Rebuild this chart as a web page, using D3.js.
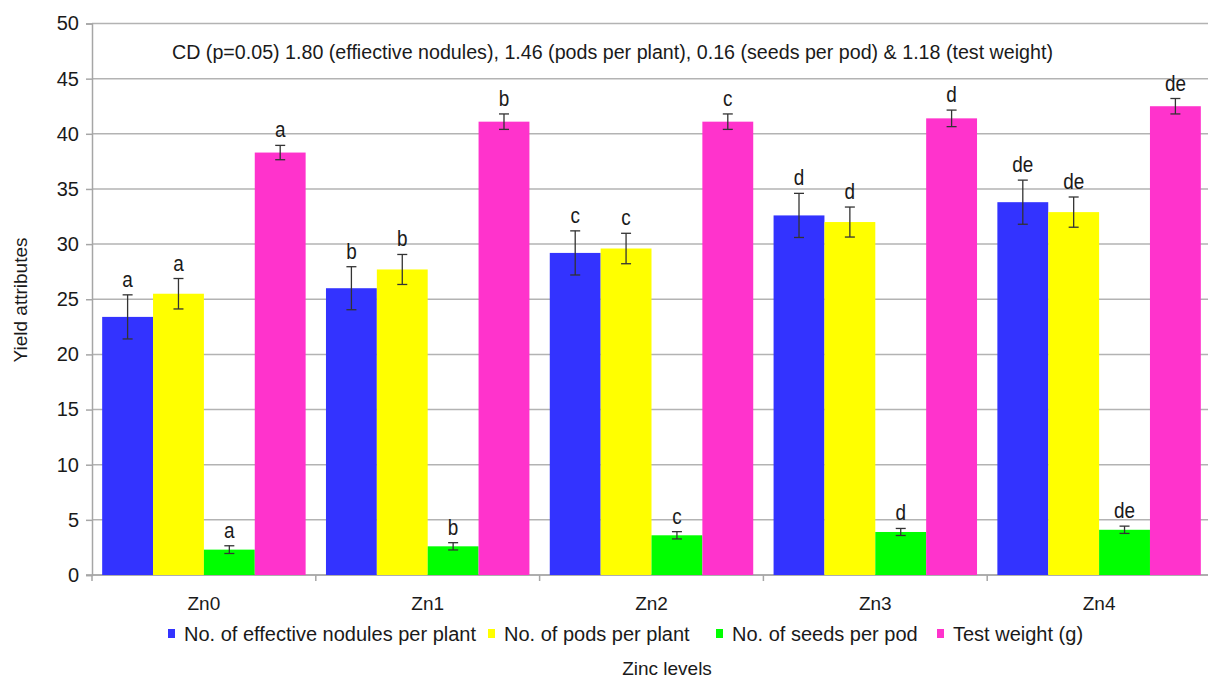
<!DOCTYPE html>
<html>
<head>
<meta charset="utf-8">
<script src="https://cdn.jsdelivr.net/npm/d3@7"></script>
<style>
  html, body { margin: 0; padding: 0; background: #fff; }
  svg text { font-family: "Liberation Sans", Arial, sans-serif; fill: #1a1a1a; }
</style>
</head>
<body>
<svg id="chart" width="1208" height="678"></svg>
<script>
// Zinc levels on the x axis
const levels = ["Zn0", "Zn1", "Zn2", "Zn3", "Zn4"];

// Series names (legend order)
const seriesNames = [
  "No. of effective nodules per plant",
  "No. of pods per plant",
  "No. of seeds per pod",
  "Test weight (g)"
];
const seriesColors = ["#3333ff", "#ffff00", "#00ff00", "#ff33cc"];

// Means per zinc level
const nodules   = [23.4, 26.0, 29.2, 32.6, 33.8];
const pods      = [25.5, 27.7, 29.6, 32.0, 32.9];
const seeds     = [2.3, 2.6, 3.6, 3.9, 4.1];
const testWt    = [38.3, 41.1, 41.1, 41.4, 42.5];

// Error bar half-widths
const nodulesErr = [2.0, 1.95, 2.0, 2.0, 2.0];
const podsErr    = [1.38, 1.36, 1.38, 1.36, 1.37];
const seedsErr   = [0.35, 0.33, 0.33, 0.32, 0.33];
const testWtErr  = [0.65, 0.7, 0.7, 0.75, 0.7];

// Significance letters
const nodulesLetters = ["a", "b", "c", "d", "de"];
const podsLetters    = ["a", "b", "c", "d", "de"];
const seedsLetters   = ["a", "b", "c", "d", "de"];
const testWtLetters  = ["a", "b", "c", "d", "de"];

const yTicks = [0, 5, 10, 15, 20, 25, 30, 35, 40, 45, 50];

const cdNote = "CD (p=0.05) 1.80 (effiective nodules), 1.46 (pods per plant), 0.16 (seeds per pod) & 1.18 (test weight)";

const seriesValues  = [nodules, pods, seeds, testWt];
const seriesErrors  = [nodulesErr, podsErr, seedsErr, testWtErr];
const seriesLetters = [nodulesLetters, podsLetters, seedsLetters, testWtLetters];

const svg = d3.select("#chart");
const plotLeft = 92, plotRight = 1211, plotTop = 23.5, plotBottom = 575;

const x0 = d3.scaleBand().domain(levels).range([plotLeft, plotRight]).paddingInner(0).paddingOuter(0);
const x1 = d3.scaleBand().domain(d3.range(seriesNames.length)).range([0, x0.bandwidth()]).paddingInner(0).paddingOuter(0.2);
const y = d3.scaleLinear().domain([0, 50]).range([plotBottom, plotTop]);

// Horizontal gridlines
svg.append("g")
  .selectAll("line")
  .data(yTicks)
  .join("line")
  .attr("x1", plotLeft).attr("x2", plotRight)
  .attr("y1", d => y(d)).attr("y2", d => y(d))
  .attr("stroke", "#b3b3b3").attr("stroke-width", 1.5);

// Y axis
const yAxis = svg.append("g")
  .attr("transform", `translate(${plotLeft},0)`)
  .call(d3.axisLeft(y).tickValues(yTicks).tickSize(6).tickPadding(7));
yAxis.select(".domain").attr("stroke", "#a6a6a6").attr("stroke-width", 1.5);
yAxis.selectAll(".tick line").attr("stroke", "#a6a6a6").attr("stroke-width", 1.5);
yAxis.selectAll(".tick text").attr("font-size", 20).style("fill", "#1a1a1a")
  .style("font-family", '"Liberation Sans", Arial, sans-serif');

// X axis (boundary ticks between groups)
const xBase = svg.append("g");
xBase.append("line")
  .attr("x1", plotLeft - 6).attr("x2", plotRight)
  .attr("y1", plotBottom).attr("y2", plotBottom)
  .attr("stroke", "#a6a6a6").attr("stroke-width", 1.5);
xBase.selectAll("line.b")
  .data(d3.range(levels.length + 1))
  .join("line")
  .attr("class", "b")
  .attr("x1", i => plotLeft + i * x0.bandwidth())
  .attr("x2", i => plotLeft + i * x0.bandwidth())
  .attr("y1", plotBottom).attr("y2", plotBottom + 6)
  .attr("stroke", "#a6a6a6").attr("stroke-width", 1.5);
xBase.selectAll("text")
  .data(levels)
  .join("text")
  .attr("x", d => x0(d) + x0.bandwidth() / 2)
  .attr("y", 610)
  .attr("text-anchor", "middle")
  .attr("font-size", 19)
  .text(d => d);

// Bars, error bars and letters
const groups = svg.append("g")
  .selectAll("g")
  .data(levels)
  .join("g")
  .attr("transform", d => `translate(${x0(d)},0)`);

const cells = groups.selectAll("g")
  .data((d, li) => seriesNames.map((s, si) => ({
    si,
    v: seriesValues[si][li],
    e: seriesErrors[si][li],
    l: seriesLetters[si][li]
  })))
  .join("g");

cells.append("rect")
  .attr("x", d => x1(d.si))
  .attr("width", x1.bandwidth())
  .attr("y", d => y(d.v))
  .attr("height", d => y(0) - y(d.v))
  .attr("fill", d => seriesColors[d.si]);

const cx = d => x1(d.si) + x1.bandwidth() / 2;
cells.append("line")
  .attr("x1", cx).attr("x2", cx)
  .attr("y1", d => y(d.v + d.e)).attr("y2", d => y(d.v - d.e))
  .attr("stroke", "#333").attr("stroke-width", 1.3);
cells.append("line")
  .attr("x1", d => cx(d) - 5).attr("x2", d => cx(d) + 5)
  .attr("y1", d => y(d.v + d.e)).attr("y2", d => y(d.v + d.e))
  .attr("stroke", "#333").attr("stroke-width", 1.3);
cells.append("line")
  .attr("x1", d => cx(d) - 5).attr("x2", d => cx(d) + 5)
  .attr("y1", d => y(d.v - d.e)).attr("y2", d => y(d.v - d.e))
  .attr("stroke", "#333").attr("stroke-width", 1.3);
// Letters use a slightly condensed face
cells.append("g")
  .attr("transform", d => `translate(${cx(d)},${y(d.v + d.e) - 8}) scale(0.86,1)`)
  .append("text")
  .attr("text-anchor", "middle")
  .attr("font-size", 22)
  .text(d => d.l);

// CD note inside the plot
svg.append("text")
  .attr("x", 172).attr("y", 59)
  .attr("font-size", 19.5)
  .attr("textLength", 881)
  .attr("lengthAdjust", "spacingAndGlyphs")
  .text(cdNote);

// Legend
const legendX = [168, 488, 716, 937];
const legend = svg.append("g")
  .selectAll("g")
  .data(seriesNames)
  .join("g")
  .attr("transform", (d, i) => `translate(${legendX[i]},634)`);
legend.append("rect")
  .attr("x", 0).attr("y", -5).attr("width", 7).attr("height", 9)
  .attr("fill", (d, i) => seriesColors[i]);
legend.append("text")
  .attr("x", 16).attr("y", 7)
  .attr("font-size", 20)
  .text(d => d);

// Axis titles
svg.append("text")
  .attr("x", 667).attr("y", 675)
  .attr("text-anchor", "middle")
  .attr("font-size", 19)
  .text("Zinc levels");
svg.append("text")
  .attr("transform", "translate(27,300) rotate(-90)")
  .attr("text-anchor", "middle")
  .attr("font-size", 19)
  .text("Yield attributes");
</script>
</body>
</html>
